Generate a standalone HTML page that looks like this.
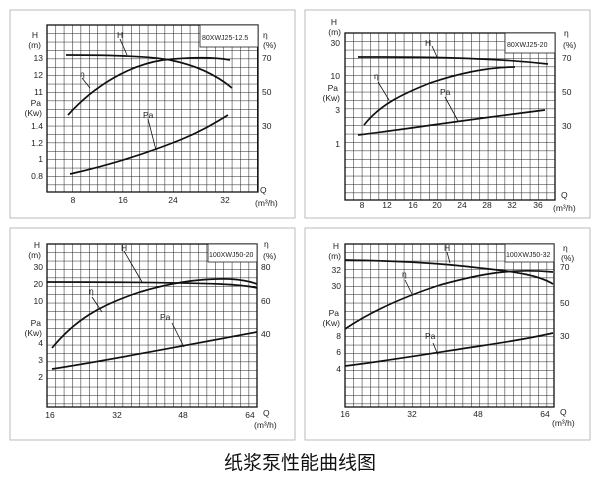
<!DOCTYPE html>
<html><head><meta charset="utf-8"><style>
body{margin:0;background:#fff;width:600px;height:487px;overflow:hidden}
svg{display:block}
text{font-family:"Liberation Sans",Arial,sans-serif;font-size:8.5px;fill:#222}
.t{font-family:"Liberation Sans","Noto Sans CJK SC",sans-serif;font-size:19px;fill:#111}
.c{fill:none;stroke:#111;stroke-width:1.7}
.g{stroke:#222;stroke-width:1.05}
.f{fill:#fff;stroke:#222;stroke-width:0.8}
.b{font-size:7px}
</style></head><body>
<svg width="600" height="487" viewBox="0 0 600 487">
<defs>
<pattern id="p" width="8.4" height="8.4" patternUnits="userSpaceOnUse"><path d="M0 0H8.4M0 0V8.4" class="g" fill="none"/></pattern>
</defs>
<rect x="10" y="10" width="285" height="208" fill="none" stroke="#bbb"/>
<rect x="305" y="10" width="285" height="208" fill="none" stroke="#bbb"/>
<rect x="10" y="228" width="285" height="212" fill="none" stroke="#bbb"/>
<rect x="305" y="228" width="285" height="212" fill="none" stroke="#bbb"/>

<!-- TL -->
<g transform="translate(47,25)"><rect width="211" height="167" fill="url(#p)" stroke="#111" stroke-width="1.3"/></g>
<rect x="200" y="25" width="58" height="22" class="f"/>
<text x="202" y="40" class="b">80XWJ25-12.5</text>
<path class="c" d="M66 55 C110 55,150 56,170 60 C200 66,220 78,232 88"/>
<path class="c" d="M68 115 C95 85,130 65,163 60 C190 57,215 57,230 60"/>
<path class="c" d="M70 174 C110 165,150 152,180 140 C200 132,215 123,228 115"/>
<path d="M120 39 L127 55 M82 78 L90 88 M148 119 L156 150" stroke="#111" fill="none" stroke-width="0.8"/>
<text x="117" y="38">H</text><text x="80" y="77">η</text><text x="143" y="118">Pa</text>
<g text-anchor="end"><text x="38" y="38">H</text><text x="41" y="48">(m)</text><text x="43" y="61">13</text><text x="43" y="78">12</text><text x="43" y="95">11</text><text x="41" y="106">Pa</text><text x="42" y="116">(Kw)</text><text x="43" y="129">1.4</text><text x="43" y="146">1.2</text><text x="43" y="162">1</text><text x="43" y="179">0.8</text></g>
<text x="263" y="38">η</text><text x="263" y="48">(%)</text><text x="262" y="61">70</text><text x="262" y="95">50</text><text x="262" y="129">30</text>
<g text-anchor="middle"><text x="73" y="203">8</text><text x="123" y="203">16</text><text x="173" y="203">24</text><text x="225" y="203">32</text></g>
<text x="260" y="193">Q</text><text x="255" y="206" font-size="7">(m³/h)</text>

<!-- TR -->
<g transform="translate(345,33)"><rect width="210" height="167" fill="url(#p)" stroke="#111" stroke-width="1.3"/></g>
<rect x="505" y="33" width="50" height="20" class="f"/>
<text x="507" y="47" class="b">80XWJ25-20</text>
<path class="c" d="M358 57 C400 57,440 57,480 59 C510 60,530 62,548 64"/>
<path class="c" d="M364 125 C380 105,400 95,430 83 C460 73,490 67,515 67"/>
<path class="c" d="M358 135 C400 130,450 122,545 110"/>
<path d="M432 46 L437 57 M378 82 L389 100 M445 97 L458 121" stroke="#111" fill="none" stroke-width="0.8"/>
<text x="425" y="46">H</text><text x="374" y="79">η</text><text x="440" y="95">Pa</text>
<g text-anchor="end"><text x="337" y="25">H</text><text x="341" y="35">(m)</text><text x="340" y="46">30</text><text x="340" y="79">10</text><text x="338" y="91">Pa</text><text x="340" y="101">(Kw)</text><text x="340" y="113">3</text><text x="340" y="147">1</text></g>
<text x="564" y="36">η</text><text x="563" y="48">(%)</text><text x="562" y="61">70</text><text x="562" y="95">50</text><text x="562" y="129">30</text>
<g text-anchor="middle"><text x="362" y="208">8</text><text x="387" y="208">12</text><text x="413" y="208">16</text><text x="437" y="208">20</text><text x="462" y="208">24</text><text x="487" y="208">28</text><text x="512" y="208">32</text><text x="538" y="208">36</text></g>
<text x="561" y="198">Q</text><text x="553" y="211" font-size="7">(m³/h)</text>

<!-- BL -->
<g transform="translate(47,244)"><rect width="210" height="163" fill="url(#p)" stroke="#111" stroke-width="1.3"/></g>
<rect x="208" y="244" width="49" height="18" class="f"/>
<text x="209" y="257" class="b">100XWJ50-20</text>
<path class="c" d="M47 282 C120 282,190 283,220 284 C240 285,250 286,257 288"/>
<path class="c" d="M52 348 C75 320,100 305,140 292 C170 283,200 278,230 279 C245 280,252 282,257 284"/>
<path class="c" d="M52 369 C110 360,160 350,257 332"/>
<path d="M124 251 L142 282 M92 297 L102 312 M172 323 L184 347" stroke="#111" fill="none" stroke-width="0.8"/>
<text x="121" y="251">H</text><text x="89" y="294">η</text><text x="160" y="320">Pa</text>
<g text-anchor="end"><text x="40" y="248">H</text><text x="41" y="258">(m)</text><text x="43" y="270">30</text><text x="43" y="287">20</text><text x="43" y="304">10</text><text x="41" y="326">Pa</text><text x="42" y="336">(Kw)</text><text x="43" y="346">4</text><text x="43" y="363">3</text><text x="43" y="380">2</text></g>
<text x="264" y="247">η</text><text x="263" y="259">(%)</text><text x="261" y="270">80</text><text x="261" y="304">60</text><text x="261" y="337">40</text>
<g text-anchor="middle"><text x="50" y="418">16</text><text x="117" y="418">32</text><text x="183" y="418">48</text><text x="250" y="418">64</text></g>
<text x="263" y="416">Q</text><text x="254" y="428" font-size="7">(m³/h)</text>

<!-- BR -->
<g transform="translate(345,244)"><rect width="209" height="163" fill="url(#p)" stroke="#111" stroke-width="1.3"/></g>
<rect x="505" y="244" width="49" height="18" class="f"/>
<text x="506" y="257" class="b">100XWJ50-32</text>
<path class="c" d="M345 260 C400 261,440 263,480 268 C520 272,540 276,553 284"/>
<path class="c" d="M345 329 C370 312,400 298,440 285 C480 274,510 268,553 272"/>
<path class="c" d="M345 366 C400 359,440 352,480 346 C520 340,540 336,553 333"/>
<path d="M447 252 L450 263 M405 280 L412 294 M433 343 L438 355" stroke="#111" fill="none" stroke-width="0.8"/>
<text x="444" y="251">H</text><text x="402" y="277">η</text><text x="425" y="339">Pa</text>
<g text-anchor="end"><text x="339" y="249">H</text><text x="341" y="259">(m)</text><text x="341" y="273">32</text><text x="341" y="289">30</text><text x="339" y="316">Pa</text><text x="340" y="326">(Kw)</text><text x="341" y="339">8</text><text x="341" y="355">6</text><text x="341" y="372">4</text></g>
<text x="563" y="251">η</text><text x="561" y="261">(%)</text><text x="560" y="270">70</text><text x="560" y="306">50</text><text x="560" y="339">30</text>
<g text-anchor="middle"><text x="345" y="417">16</text><text x="412" y="417">32</text><text x="478" y="417">48</text><text x="545" y="417">64</text></g>
<text x="560" y="415">Q</text><text x="552" y="426" font-size="8">(m³/h)</text>

<text x="300" y="469" text-anchor="middle" class="t">纸浆泵性能曲线图</text>
</svg>
</body></html>
